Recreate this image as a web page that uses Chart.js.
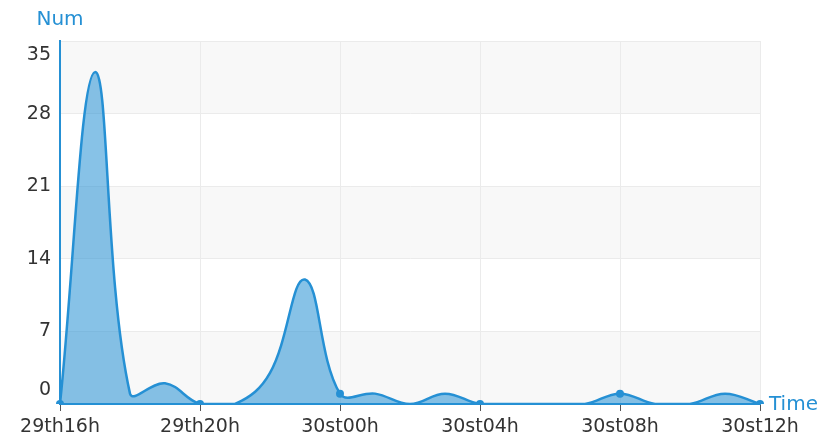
<!DOCTYPE html>
<html>
<head>
<meta charset="utf-8">
<script src="https://cdn.jsdelivr.net/npm/chart.js@4/dist/chart.umd.min.js"></script>
<style>
html,body{margin:0;padding:0;background:#fff;}
canvas{display:block;}
</style>
</head>
<body>
<canvas id="c" width="832" height="441"></canvas>
<script>
const categories = ["29th16h","29th17h","29th18h","29th19h","29th20h","29th21h","29th22h","29th23h",
  "30st00h","30st01h","30st02h","30st03h","30st04h","30st05h","30st06h","30st07h",
  "30st08h","30st09h","30st10h","30st11h","30st12h"];
const numValues = [0,32,1,2,0,0,3,12,1,1,0,1,0,0,0,0,1,0,0,1,0];
const yTickValues = [0,7,14,21,28,35];
const yAxisName = "Num";
const xAxisName = "Time";

const BLUE = '#2590d4';
const FONT = '"DejaVu Sans", sans-serif';

const decorPlugin = {
  id: 'decor',
  beforeDraw(chart) {
    const ctx = chart.ctx, y = chart.scales.y, a = chart.chartArea;
    ctx.save();
    ctx.fillStyle = '#f8f8f8';
    for (let i = yTickValues.length - 1; i > 0; i -= 2) {
      const top = y.getPixelForValue(yTickValues[i]);
      const bot = y.getPixelForValue(yTickValues[i - 1]);
      ctx.fillRect(a.left, top, a.right - a.left, bot - top);
    }
    ctx.restore();
  },
  afterDraw(chart) {
    const ctx = chart.ctx, y = chart.scales.y, x = chart.scales.x, a = chart.chartArea;
    ctx.save();
    ctx.fillStyle = '#333';
    ctx.font = '19px ' + FONT;
    ctx.textAlign = 'right';
    ctx.textBaseline = 'middle';
    const maxV = yTickValues[yTickValues.length - 1];
    yTickValues.forEach(v => {
      let py = y.getPixelForValue(v);
      if (v === maxV) py += 14;
      if (v === 0) py -= 14;
      ctx.fillText(String(v), a.left - 9, py);
    });
    ctx.textAlign = 'center';
    categories.forEach((c, i) => {
      if (i % 4 === 0) ctx.fillText(c, x.getPixelForValue(i), a.bottom + 23);
    });
    ctx.fillStyle = BLUE;
    ctx.font = '20px ' + FONT;
    ctx.textAlign = 'center';
    ctx.fillText(yAxisName, a.left, 20);
    ctx.textAlign = 'left';
    ctx.fillText(xAxisName, a.right + 9, a.bottom + 1);
    ctx.restore();
  }
};

new Chart(document.getElementById('c'), {
  type: 'line',
  data: {
    labels: categories,
    datasets: [{
      data: numValues,
      borderColor: BLUE,
      borderWidth: 2.5,
      backgroundColor: 'rgba(37,144,212,0.55)',
      fill: 'origin',
      tension: 0.4,
      pointRadius: ctx => (ctx.dataIndex % 4 === 0 ? 4 : 0),
      pointHoverRadius: 0,
      pointBackgroundColor: BLUE,
      pointBorderColor: BLUE,
      pointBorderWidth: 0
    }]
  },
  options: {
    responsive: false,
    animation: false,
    devicePixelRatio: 1,
    layout: { padding: { top: 41, right: 72, left: 0, bottom: 0 } },
    plugins: { legend: { display: false }, tooltip: { enabled: false } },
    scales: {
      x: {
        type: 'category',
        offset: false,
        grid: {
          color: ctx => (ctx.index % 4 === 0 ? '#ebebeb' : 'rgba(0,0,0,0)'),
          tickColor: ctx => (ctx.index % 4 === 0 ? '#555' : 'rgba(0,0,0,0)'),
          tickLength: 7,
          drawTicks: true,
          lineWidth: 1
        },
        border: { display: true, color: BLUE, width: 2 },
        ticks: { display: false, autoSkip: false },
        afterFit: s => { s.height = 37; }
      },
      y: {
        min: 0, max: 35,
        afterBuildTicks: s => { s.ticks = yTickValues.map(v => ({ value: v })); },
        grid: { color: '#ebebeb', drawTicks: false, lineWidth: 1 },
        border: { display: true, color: BLUE, width: 2 },
        ticks: { display: false },
        afterFit: s => { s.width = 60; }
      }
    }
  },
  plugins: [decorPlugin]
});
</script>
</body>
</html>
